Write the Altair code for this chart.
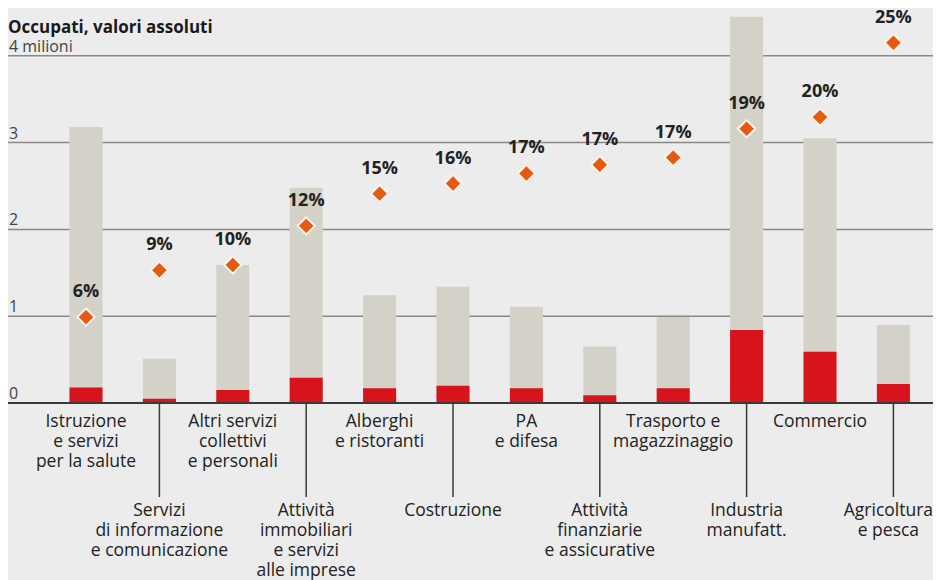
import altair as alt
import pandas as pd

# ---- data ----
categories = [
    "Istruzione e servizi per la salute",
    "Servizi di informazione e comunicazione",
    "Altri servizi collettivi e personali",
    "Attività immobiliari e servizi alle imprese",
    "Alberghi e ristoranti",
    "Costruzione",
    "PA e difesa",
    "Attività finanziarie e assicurative",
    "Trasporto e magazzinaggio",
    "Industria manufatt.",
    "Commercio",
    "Agricoltura e pesca",
]
labels = [
    "Istruzione\ne servizi\nper la salute",
    "Servizi\ndi informazione\ne comunicazione",
    "Altri servizi\ncollettivi\ne personali",
    "Attività\nimmobiliari\ne servizi\nalle imprese",
    "Alberghi\ne ristoranti",
    "Costruzione",
    "PA\ne difesa",
    "Attività\nfinanziarie\ne assicurative",
    "Trasporto e\nmagazzinaggio",
    "Industria\nmanufatt.",
    "Commercio",
    "Agricoltura\ne pesca",
]
label_row = ["upper", "lower"] * 6
total_mln = [3.18, 0.51, 1.59, 2.48, 1.24, 1.34, 1.11, 0.65, 0.99, 4.45, 3.05, 0.90]
red_mln = [0.18, 0.05, 0.15, 0.29, 0.17, 0.20, 0.17, 0.09, 0.17, 0.84, 0.59, 0.22]
pct_value = [5.95, 9.2, 9.56, 12.27, 14.5, 15.2, 15.9, 16.5, 17.0, 19.0, 19.8, 24.95]
pct_label = ["6%", "9%", "10%", "12%", "15%", "16%", "17%", "17%", "17%", "19%", "20%", "25%"]

y_ticks = [0, 1, 2, 3, 4]
y_tick_labels = ["0", "1", "2", "3", "4 milioni"]

title_text = "Occupati, valori assoluti"

df = pd.DataFrame({
    "cat": categories,
    "label": labels,
    "row": label_row,
    "total": total_mln,
    "red": red_mln,
    "pct": pct_value,
    "pct_label": pct_label,
})
ticks = pd.DataFrame({"v": y_ticks, "t": y_tick_labels})
last_cat = categories[-1]

W, H = 925, 572
Y0 = 395          # pixel of 0
UNIT = 86.8       # pixels per million
y_range = [Y0, Y0 - 4 * UNIT]

FONT = "Open Sans"
BG = "#ececec"

xs = alt.X("cat:N", sort=categories, axis=None,
           scale=alt.Scale(range=[41.3, 922.1], paddingInner=0.55, paddingOuter=0.275))
ysc = alt.Scale(domain=[0, 4], range=y_range, zero=True, nice=False)

base = alt.Chart(df)

grid = alt.Chart(ticks).transform_filter("datum.v > 0").mark_rule(
    color="#8c8884", strokeWidth=1.5
).encode(y=alt.Y("v:Q", scale=ysc, axis=None), x=alt.value(0), x2=alt.value(W))

tick_text = alt.Chart(ticks).mark_text(
    align="left", baseline="alphabetic", dy=-4, font=FONT, fontSize=16, color="#444444"
).encode(y=alt.Y("v:Q", scale=ysc, axis=None), x=alt.value(1), text="t:N")

bars_total = base.mark_bar(color="#d3d1c8").encode(
    x=xs, y=alt.Y("total:Q", scale=ysc, axis=None), y2=alt.datum(0)
)
bars_red = base.mark_bar(color="#d7141c").encode(
    x=xs, y=alt.Y("red:Q", scale=ysc, axis=None), y2=alt.datum(0)
)

zero_line = alt.Chart(ticks).transform_filter("datum.v == 0").mark_rule(
    color="#3a3a3a", strokeWidth=2
).encode(y=alt.Y("v:Q", scale=ysc, axis=None), x=alt.value(0), x2=alt.value(W))

seps = base.transform_filter("datum.row == 'lower'").mark_rule(
    color="#3a3a3a", strokeWidth=1.5
).encode(x=xs, y=alt.value(Y0), y2=alt.value(489))

lab_props = dict(baseline="top", align="center", font=FONT, fontSize=17.5,
                 lineHeight=20, lineBreak="\n", color="#222222")

lab_up = base.transform_filter("datum.row == 'upper'").mark_text(**lab_props).encode(
    x=xs, y=alt.value(405), text="label:N")

lab_low = base.transform_filter(
    f"datum.row == 'lower' && datum.cat != '{last_cat}'"
).mark_text(**lab_props).encode(x=xs, y=alt.value(494), text="label:N")

lab_last = base.transform_filter(f"datum.cat == '{last_cat}'").mark_text(
    dx=-5, **lab_props).encode(x=xs, y=alt.value(494), text="label:N")

psc = alt.Scale(domain=[0, 24.05], range=y_range, zero=True, nice=False)

diamonds = base.mark_point(
    shape="diamond", filled=True, size=300, color="#e35a10",
    stroke="#fbf3ea", strokeWidth=2, opacity=1
).encode(x=xs, y=alt.Y("pct:Q", scale=psc, axis=None))

pct_text = base.mark_text(
    baseline="middle", align="center", dy=-25, font=FONT, fontSize=18,
    fontWeight="bold", color="#222222"
).encode(x=xs, y=alt.Y("pct:Q", scale=psc, axis=None), text="pct_label:N")

title = alt.Chart(pd.DataFrame({"t": [title_text]})).mark_text(
    align="left", baseline="alphabetic", font=FONT, fontSize=17, fontWeight="bold",
    color="#1a1a1a"
).encode(x=alt.value(0), y=alt.value(25), text="t:N")

chart = alt.layer(
    grid, tick_text, bars_total, bars_red, zero_line, seps, lab_up, lab_low, lab_last,
    diamonds, pct_text, title
).resolve_scale(y="independent").properties(
    width=W, height=H, background=BG, padding=0, autosize=alt.AutoSizeParams(type="none")
).configure_view(stroke=None)

chart.save("out.html", embed_options={"renderer": "svg", "actions": False})
